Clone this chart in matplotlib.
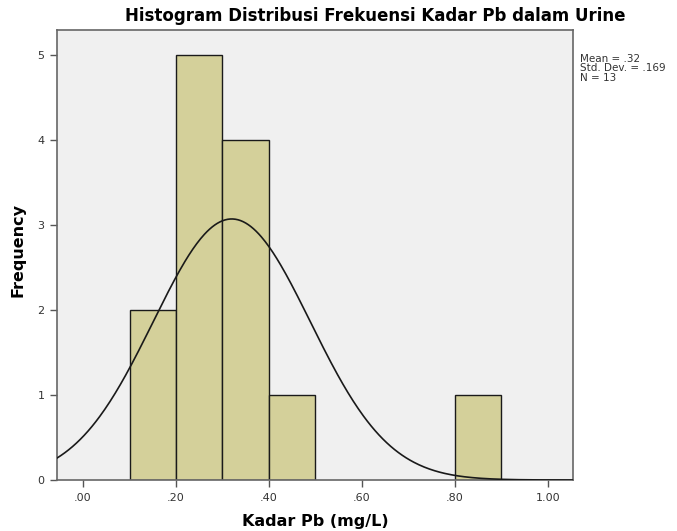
import numpy as np
import matplotlib
matplotlib.use("Agg")
import matplotlib.pyplot as plt

plt.rcParams['font.family'] = ['DejaVu Sans']

bin_left = [0.10, 0.20, 0.30, 0.40, 0.80]
bin_width = 0.10
counts = [2, 5, 4, 1, 1]
mean_val = 0.32
sd_val = 0.169
n_val = 13
x_ticks = [0.0, 0.2, 0.4, 0.6, 0.8, 1.0]
x_tick_labels = ['.00', '.20', '.40', '.60', '.80', '1.00']
y_ticks = [0, 1, 2, 3, 4, 5]

fig = plt.figure(figsize=(6.77, 5.31), dpi=100)
ax = fig.add_axes([0.0842, 0.096, 0.762, 0.8475])
ax.set_facecolor('#F0F0F0')

ax.bar(bin_left, counts, width=bin_width, align='edge', color='#D4D09A',
       edgecolor='#1a1a1a', linewidth=1.0, zorder=2)

xlim = (-0.056, 1.054)
xs = np.linspace(xlim[0], xlim[1], 400)
ys = n_val * bin_width / (sd_val * np.sqrt(2 * np.pi)) * np.exp(-0.5 * ((xs - mean_val) / sd_val) ** 2)
ax.plot(xs, ys, color='#1a1a1a', linewidth=1.2, zorder=3)

ax.set_xlim(*xlim)
ax.set_ylim(0, 5.29)
ax.set_xticks(x_ticks)
ax.set_xticklabels(x_tick_labels, fontsize=8, color='#333333')
ax.set_yticks(y_ticks)
ax.set_yticklabels([str(v) for v in y_ticks], fontsize=8, color='#333333')
ax.tick_params(length=5, width=1, color='#555555', pad=4)

for s in ax.spines.values():
    s.set_color('#666666')
    s.set_linewidth(1.2)

ax.set_xlabel('Kadar Pb (mg/L)', fontsize=11.5, fontweight='bold', labelpad=8)
ax.set_ylabel('Frequency', fontsize=11.5, fontweight='bold')
ax.yaxis.set_label_coords(-0.062, 0.511)
fig.text(0.555, 0.969, 'Histogram Distribusi Frekuensi Kadar Pb dalam Urine',
         ha='center', va='center', fontsize=12, fontweight='bold')

fig.text(0.857, 0.898, 'Mean = .32\nStd. Dev. = .169\nN = 13', ha='left', va='top',
         fontsize=7.5, color='#333333', linespacing=0.9)

fig.savefig('out.png', dpi=100)
